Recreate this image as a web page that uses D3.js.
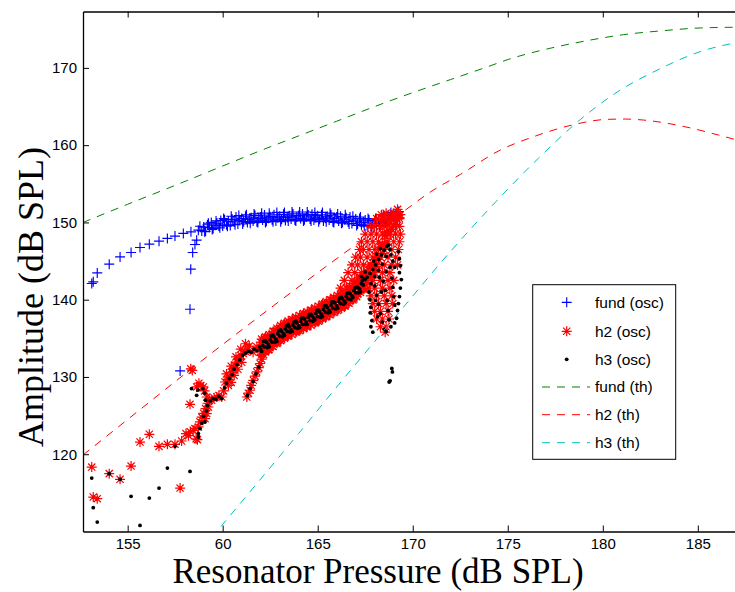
<!DOCTYPE html>
<html><head><meta charset="utf-8">
<script src="https://cdn.jsdelivr.net/npm/d3@7"></script>
<style>body{margin:0;background:#fff}</style>
</head><body><svg id="c" width="735" height="592"></svg>
<script>
// ---------- data ----------
const xTicks=[155,160,165,170,175,180,185];
const xTickLabels=["155","60","165","170","175","180","185"];
const yTicks=[120,130,140,150,160,170];
const xTitle="Resonator Pressure (dB SPL)";
const yTitle="Amplitude (dB SPL)";
const legendLabels=["fund (osc)","h2 (osc)","h3 (osc)","fund (th)","h2 (th)","h3 (th)"];

const fundTh=[[152.65,150.0],[155,152.35],[157.5,154.8],[160,157.3],[162.1,159.4],[164,161.2],[166,163.1],[168,165.0],[170,166.8],[172,168.5],[174,170.2],[175.03,171.1],[177.23,172.54],[179.16,173.52],[181.09,174.3],[183.19,174.82],[185.12,175.17],[187.3,175.27]];
const h2Th=[[152.65,119.9],[155,124.5],[157.5,129.4],[160,134.2],[163.04,139.9],[165,143.5],[167,147.1],[169,150.5],[171.08,154.18],[172.5,156.2],[174.6,159.36],[176.35,161.09],[178.37,162.6],[180.21,163.34],[181.18,163.38],[182.14,163.25],[184.16,162.47],[186.09,161.31],[187.3,160.5]];
const h3Th=[[159.4,109.15],[162,116.8],[164,122.7],[166,128.7],[168,134.6],[169.6,139.3],[171.97,146.2],[174,151.7],[176.61,158.3],[178.81,163.3],[180.65,166.7],[183.02,169.9],[185.12,172.1],[187.3,173.4]];

const fundOsc=[[153.11,142.10],[153.19,142.31],[153.40,143.47],[154.03,144.60],[154.60,145.54],[155.18,146.11],[155.65,146.76],[156.14,147.19],[156.65,147.58],[157.09,147.93],[157.49,148.23],[157.93,148.58],[158.33,148.78],[158.72,149.0],
[158.63,147.71],[158.54,147.15],[158.42,146.11],[158.32,143.95],[158.28,138.77],[157.76,130.78],
[158.8,149.5],[158.9,148.9],[159.0,149.4],[159.1,148.85],[159.2,149.7],[159.3,149.35],[159.4,150.0],[159.5,149.2],[159.6,149.65],[159.7,149.9],[159.8,149.55],[159.9,150.25],
[160.0,149.55],[160.1,150.35],[160.2,149.7],[160.3,150.15],[160.4,149.6],[160.5,150.4],[160.6,150.05],[160.7,150.7],[160.8,149.8],[160.9,150.25],
[161.0,150.5],[161.1,150.1],[161.2,150.8],[161.3,150.0],[161.4,150.4],[161.5,150.6],[161.6,150.2],[161.7,150.9],[161.8,150.1],[161.9,150.5],
[162.0,150.7],[162.1,150.3],[162.2,150.95],[162.3,150.15],[162.4,150.55],[162.5,150.75],[162.6,150.35],[162.7,151.0],[162.8,150.2],[162.9,150.6],
[163.0,150.8],[163.1,150.4],[163.2,151.05],[163.3,150.25],[163.4,150.65],[163.5,150.85],[163.6,150.45],[163.7,151.1],[163.8,150.3],[163.9,150.7],
[164.0,150.9],[164.1,150.5],[164.2,151.1],[164.3,150.35],[164.4,150.7],[164.5,150.95],[164.6,150.45],[164.7,151.05],[164.8,150.3],[164.9,150.6],
[165.0,150.85],[165.1,150.4],[165.2,151.0],[165.3,150.2],[165.4,150.55],[165.5,150.8],[165.6,150.3],[165.7,150.95],[165.8,150.1],[165.9,150.5],
[166.0,150.7],[166.1,150.2],[166.2,150.8],[166.3,150.0],[166.4,150.35],[166.5,150.6],[166.6,150.1],[166.7,150.7],[166.8,149.85],[166.9,150.2],
[167.0,150.45],[167.1,149.8],[167.2,150.5],[167.3,149.7],[167.4,150.0],[167.5,150.3],[167.6,149.6],[167.7,150.3],[167.8,149.5],[167.9,149.9],
[168.0,150.2],[168.1,149.6],[168.2,150.45],[168.3,149.8],[168.4,150.2],[168.5,150.7],[168.6,150.0],[168.7,150.9],[168.8,150.3],[168.9,150.7],
[169.0,151.1],[169.1,150.4],[169.2,151.2],[169.3,150.6],
[159.05,148.8],[159.25,149.9],[159.45,149.1],[159.65,150.2],[159.85,149.3],[160.05,150.5],[160.25,149.5],[160.45,150.8],[160.65,149.7],[160.85,150.9],
[161.05,149.8],[161.25,151.0],[161.45,149.9],[161.65,151.1],[161.85,150.0],[162.05,151.2],[162.25,150.0],[162.45,151.2],[162.65,150.1],[162.85,151.3],
[163.05,150.1],[163.25,151.3],[163.45,150.2],[163.65,151.35],[163.85,150.2],[164.05,151.35],[164.25,150.2],[164.45,151.35],[164.65,150.2],[164.85,151.3],
[165.05,150.1],[165.25,151.3],[165.45,150.1],[165.65,151.2],[165.85,150.0],[166.05,151.1],[166.25,149.9],[166.45,151.0],[166.65,149.8],[166.85,150.8],
[167.05,149.6],[167.25,150.7],[167.45,149.5],[167.65,150.5],[167.85,149.4],[168.05,150.5],[168.25,149.6],[168.45,150.9],[168.65,149.9],[168.85,151.3],[169.05,150.3],[169.25,151.4]];

const h2Osc=[[153.11,118.34],[153.19,114.46],[153.40,114.25],[154.03,117.49],[154.60,116.75],[155.18,118.47],[155.65,121.58],[156.14,122.58],[156.65,121.02],[157.09,121.28],[157.49,121.28],[157.76,115.62],[157.84,121.71],[158.28,126.46],[158.32,131.05],[158.40,130.85],
[158.07,122.67],[158.2,122.4],[158.3,122.9],[158.45,123.1],[158.54,123.32],[158.6,122.0],[158.72,123.53],[158.67,121.89],[158.8,124.2],[158.9,124.8],[159.0,125.3],[159.07,124.61],[159.1,125.9],[159.16,125.26],[159.2,126.6],[159.25,126.11],[159.16,127.41],[159.05,128.2],[158.98,128.71],[158.85,128.9],[158.63,128.71],[158.75,129.2],
[159.3,127.0],[159.42,126.98],[159.55,127.3],[159.69,127.41],[159.8,127.6],[159.95,127.41],[160.05,128.2],[160.12,129.35],[160.25,129.7],[160.39,130.0],[160.5,130.6],[160.56,131.09],[160.65,131.5],[160.74,131.94],[160.85,132.3],[160.95,132.8],[161.09,133.03],[161.2,133.3],[161.27,133.46],
[160.3,128.9],[160.45,129.3],[160.6,130.2],[160.8,131.0],[161.0,131.9],[161.4,134.0],[161.6,133.2],[161.8,133.9],[160.2,130.4],[160.45,131.4],[160.7,132.6],[160.95,133.6],[161.2,134.3],
[161.27,127.41],[161.35,127.9],[161.44,128.28],[161.5,128.9],[161.61,129.57],[161.7,130.1],[161.79,130.65],[161.9,131.2],[161.97,131.74],[162.05,132.3],[162.15,132.9],
[162.0,134.5],[162.0,133.2],[162.1,134.5],[162.1,133.2],[162.2,135.0],[162.2,133.7],[162.3,134.9],[162.3,133.6],[162.4,134.7],[162.4,133.5],[162.5,135.3],[162.5,134.0],[162.6,135.3],[162.6,134.0],[162.7,135.9],[162.7,134.6],[162.8,135.8],[162.8,134.5],[162.9,135.7],[162.9,134.5],
[163.0,136.3],[163.0,135.0],[163.1,136.2],[163.1,134.9],[163.2,136.8],[163.2,135.5],[163.3,136.6],[163.3,135.3],[163.4,136.5],[163.4,135.3],[163.5,137.0],[163.5,135.7],[163.6,136.9],[163.6,135.6],[163.7,137.4],[163.7,136.1],[163.8,137.3],[163.8,136.0],[163.9,137.1],[163.9,135.9],
[164.0,137.6],[164.0,136.3],[164.1,137.5],[164.1,136.2],[164.2,138.0],[164.2,136.7],[164.3,137.9],[164.3,136.6],[164.4,137.7],[164.4,136.5],[164.5,138.2],[164.5,136.9],[164.6,138.1],[164.6,136.8],[164.7,138.6],[164.7,137.3],[164.8,138.5],[164.8,137.2],[164.9,138.3],[164.9,137.1],
[165.0,138.8],[165.0,137.5],[165.1,138.7],[165.1,137.4],[165.2,139.3],[165.2,138.0],[165.3,139.1],[165.3,137.8],[165.4,139.0],[165.4,137.8],[165.5,139.5],[165.5,138.2],[165.6,139.4],[165.6,138.1],[165.7,140.0],[165.7,138.7],[165.8,139.8],[165.8,138.5],[165.9,139.7],[165.9,138.5],
[166.0,140.2],[166.0,138.9],[166.1,140.1],[166.1,138.8],[166.2,140.7],[166.2,139.4],[166.3,140.5],[166.3,139.2],[166.4,140.4],[166.4,139.2],[166.5,140.9],[166.5,139.6],[166.6,140.9],[166.6,139.6],[166.7,141.5],[166.7,140.2],[166.8,141.4],[166.8,140.1],[166.9,141.3],[166.9,140.1],
[167.0,141.9],[167.0,140.6],[167.1,142.0],[167.1,140.7],[167.2,142.7],[167.2,141.4],[167.3,142.6],[167.3,141.3],[167.4,142.6],[167.4,141.4],[167.5,143.3],[167.5,142.0],[167.6,143.5],[167.6,142.2],[167.7,144.2],[167.7,142.9],[167.8,144.3],[167.8,143.0],[167.9,144.4],[167.9,143.2],
[168.0,145.2],[168.0,143.9],[168.1,145.6],[168.1,144.3],[168.2,146.5],[168.2,145.2],[168.3,146.8],[168.3,145.5],[168.4,147.2],[168.4,146.0],[168.5,148.3],[168.5,147.0],[168.6,148.8],[168.6,147.5],[168.7,149.8],[168.7,148.5],[168.8,150.1],[168.8,148.8],[168.9,150.3],[168.9,149.1],
[169.0,151.0],[169.0,149.7],[169.1,151.1],[169.1,149.8],[169.2,151.7],[169.2,150.4],
[162.05,134.9],[162.05,132.95],[162.25,135.2],[162.25,133.25],[162.45,135.5],[162.45,133.55],[162.65,135.9],[162.65,133.95],[162.85,136.3],[162.85,134.35],
[163.05,136.65],[163.05,134.7],[163.25,136.95],[163.25,135.0],[163.45,137.25],[163.45,135.3],[163.65,137.45],[163.65,135.5],[163.85,137.75],[163.85,135.8],
[164.05,137.95],[164.05,136.0],[164.25,138.2],[164.25,136.25],[164.45,138.45],[164.45,136.5],[164.65,138.65],[164.65,136.7],[164.85,138.95],[164.85,137.0],
[165.05,139.15],[165.05,137.2],[165.25,139.45],[165.25,137.5],[165.45,139.75],[165.45,137.8],[165.65,140.0],[165.65,138.05],[165.85,140.3],[165.85,138.35],
[166.05,140.55],[166.05,138.6],[166.25,140.85],[166.25,138.9],[166.45,141.15],[166.45,139.2],[166.65,141.5],[166.65,139.55],[166.85,141.9],[166.85,139.95],
[167.05,142.35],[167.05,140.4],[167.25,142.9],[167.25,140.95],[167.45,143.45],[167.45,141.5],
[168.4,150.5],[168.7,150.5],[169.3,150.5],[168.3,149.5],[168.5,149.5],[169.0,149.5],[169.3,149.5],[168.1,148.5],[168.4,148.5],[168.8,148.5],[169.1,148.5],[169.35,148.5],
[167.9,147.5],[168.2,147.5],[168.7,147.5],[169.0,147.5],[169.3,147.5],[167.7,146.5],[168.0,146.5],[168.5,146.5],[168.9,146.5],[169.25,146.5],
[167.6,145.5],[167.9,145.5],[168.3,145.5],[168.7,145.5],[169.1,145.5],[167.4,144.5],[167.8,144.5],[168.1,144.5],[168.5,144.5],[168.9,144.5],[169.2,144.5],
[167.3,143.5],[167.7,143.5],[168.0,143.5],[168.4,143.5],[168.8,143.5],[167.6,142.5],[167.9,142.5],[168.3,142.5],[168.7,142.5],[169.0,142.5],
[167.7,141.5],[168.0,141.5],[168.4,141.5],[168.8,141.5],[167.8,140.5],[168.1,140.5],[168.5,140.5],[168.9,140.5],
[167.9,139.5],[168.2,139.5],[168.6,139.5],[168.95,139.5],[168.0,138.5],[168.3,138.5],[168.7,138.5],[168.1,137.5],[168.4,137.5],[168.75,137.5],[168.3,136.5],[168.6,136.5],[168.55,135.8],
[167.3,147.5],[167.6,147.5],[167.2,146.5],[167.4,146.5],[167.0,145.5],[167.25,145.5],[166.8,144.5],[167.1,144.5],[166.6,143.5],[166.95,143.5],[166.4,142.5],[166.8,142.5],[167.2,142.5],
[166.2,141.5],[166.5,141.5],[167.3,141.5],[167.5,148.5],[167.8,148.5],[167.8,149.5],[168.0,149.5],[168.1,150.5],[168.6,151.2],[169.0,151.2],[168.35,151.0],[169.35,151.0]];

const h3Osc=[[153.11,116.92],[153.19,113.08],[153.40,111.22],[154.03,117.49],[154.60,116.75],[155.18,114.55],[155.65,110.79],[156.14,114.33],[156.65,115.62],[157.09,118.21],[157.49,121.02],[158.28,117.78],
[158.36,128.5],[158.63,127.63],[158.7,128.3],[158.81,123.32],[158.72,122.67],[158.72,122.23],[158.9,124.0],[159.07,124.17],[159.0,124.9],[159.15,125.6],[159.2,126.3],[159.1,127.0],[159.05,127.9],[158.95,128.5],
[159.35,126.9],[159.5,127.2],[159.65,127.1],[159.8,127.5],[159.95,127.2],[160.1,128.6],[160.2,129.2],[160.35,129.8],[160.5,130.3],[160.6,131.0],[160.75,131.6],[160.9,132.2],[161.05,132.8],[161.2,133.1],
[161.3,127.6],[161.45,128.5],[161.6,129.4],[161.75,130.4],[161.9,131.3],[161.35,133.3],[161.5,133.2],[161.65,133.6],[161.8,133.4],[161.95,133.9],
[162.0,133.6],[162.1,134.1],[162.2,133.9],[162.3,134.5],[162.4,134.2],[162.5,134.8],[162.6,134.5],[162.7,135.2],[162.8,134.9],[162.9,135.6],
[163.0,135.3],[163.1,135.9],[163.2,135.6],[163.3,136.2],[163.4,135.9],[163.5,136.5],[163.6,136.1],[163.7,136.7],[163.8,136.4],[163.9,137.0],
[164.0,136.6],[164.1,137.2],[164.2,136.8],[164.3,137.5],[164.4,137.1],[164.5,137.7],[164.6,137.3],[164.7,137.9],[164.8,137.6],[164.9,138.2],
[165.0,137.8],[165.1,138.4],[165.2,138.1],[165.3,138.7],[165.4,138.4],[165.5,139.0],[165.6,138.6],[165.7,139.3],[165.8,138.9],[165.9,139.6],
[166.0,139.2],[166.1,139.8],[166.2,139.5],[166.3,140.1],[166.4,139.8],[166.5,140.4],[166.6,140.1],[166.7,140.8],[166.8,140.5],[166.9,141.2],
[167.0,140.9],[167.1,141.6],[167.2,141.4],[167.3,142.1],[167.4,141.9],[167.5,142.6],
[162.05,133.3],[162.25,134.7],[162.45,133.9],[162.65,135.4],[162.85,134.6],[163.05,136.1],[163.25,135.4],[163.45,136.8],[163.65,135.9],[163.85,137.2],
[164.05,136.4],[164.25,137.6],[164.45,136.8],[164.65,138.1],[164.85,137.4],[165.05,138.6],[165.25,137.8],[165.45,139.2],[165.65,138.4],[165.85,139.7],
[166.05,138.9],[166.25,140.3],[166.45,139.6],[166.65,140.9],[166.85,140.3],[167.05,141.6],[167.25,141.0],[167.45,142.7],
[162.15,134.6],[162.35,133.8],[162.55,135.3],[162.75,134.5],[162.95,136.0],[163.15,135.2],[163.35,136.6],[163.55,135.8],[163.75,137.1],[163.95,136.3],
[164.15,137.6],[164.35,136.8],[164.55,138.1],[164.75,137.2],[164.95,138.6],[165.15,137.7],[165.35,139.2],[165.55,138.3],[165.75,139.7],[165.95,138.8],
[166.15,140.2],[166.35,139.4],[166.55,140.8],[166.75,140.0],[166.95,141.5],[167.15,140.9],[167.35,142.5],
[167.6,142.9],[167.75,143.4],[167.9,143.9],[168.05,144.5],[168.2,145.2],[168.35,145.8],[168.5,146.4],[168.65,146.9],[168.72,147.06],[168.8,146.5],[168.85,145.8],[168.95,145.0],[169.05,144.2],[168.6,145.6],[168.4,144.6],[168.2,143.8],[168.0,143.0],[167.8,142.1],[167.7,141.0],[167.75,140.0],[167.8,139.0],[167.76,138.3],[167.85,137.3],[167.9,135.8],[167.8,136.5],
[168.0,141.8],[168.1,140.6],[168.2,139.4],[168.3,138.2],[168.4,137.1],[168.5,136.2],[168.6,135.9],[168.45,142.4],[168.55,141.2],[168.65,139.9],[168.7,138.6],[168.75,137.4],[168.85,136.5],[168.9,142.8],[168.95,141.6],[169.0,140.4],[169.05,139.3],[168.3,146.6],[168.1,145.9],[167.95,145.0],
[167.5,143.6],[167.3,143.0],[168.25,142.9],[168.35,141.0],[168.6,143.6],[168.8,144.2],[168.15,137.8],[168.05,139.9],
[169.25,146.2],[169.3,145.3],[169.35,144.4],[169.3,143.5],[169.4,142.6],[169.35,141.5],[169.3,140.4],[169.25,139.5],[169.2,138.6],[169.15,137.6],[169.05,137.0],
[168.90,131.1],[168.93,130.65],[168.81,129.5],[168.76,129.35]];

// ---------- drawing ----------
const svg=d3.select("#c");
const L=83,T=11.5,R=740,B=531.5;
const x=d3.scaleLinear().domain([152.65,187.22]).range([L,R]);
const y=d3.scaleLinear().domain([110,177.3]).range([B,T]);
const colors={fund:"#0000ff",h2:"#ff0000",h3:"#000000",fundTh:"#008000",h2Th:"#ff0000",h3Th:"#00bfbf"};
const tickFont="'Liberation Sans', Arial, Helvetica, sans-serif";
const serif="'Liberation Serif', 'Times New Roman', serif";

svg.append("rect").attr("width",735).attr("height",592).attr("fill","#fff");
svg.append("defs").append("clipPath").attr("id","clip").append("rect")
  .attr("x",L).attr("y",T).attr("width",R-L).attr("height",B-T);

function plusPath(px,py,s){return `M${px-s},${py}h${2*s}M${px},${py-s}v${2*s}`;}
function starPath(px,py,s){const d=s*0.72;return `M${px-s},${py}h${2*s}M${px},${py-s}v${2*s}M${px-d},${py-d}l${2*d},${2*d}M${px-d},${py+d}l${2*d},${-2*d}`;}

const gData=svg.append("g");
gData.append("path").attr("fill","none").attr("stroke",colors.fund).attr("stroke-width",1.15)
  .attr("d",fundOsc.map(d=>plusPath(x(d[0]),y(d[1]),5)).join(""));
gData.append("path").attr("fill","none").attr("stroke",colors.h2).attr("stroke-width",1.2)
  .attr("d",h2Osc.map(d=>starPath(x(d[0]),y(d[1]),5)).join(""));
gData.selectAll("circle.h3").data(h3Osc).join("circle").attr("class","h3")
  .attr("cx",d=>x(d[0])).attr("cy",d=>y(d[1])).attr("r",1.9).attr("fill",colors.h3);

const line=d3.line().x(d=>x(d[0])).y(d=>y(d[1])).curve(d3.curveMonotoneX);
const gLines=svg.append("g").attr("clip-path","url(#clip)");
[[fundTh,colors.fundTh],[h2Th,colors.h2Th],[h3Th,colors.h3Th]].forEach(([d,c])=>{
  gLines.append("path").datum(d).attr("d",line).attr("fill","none").attr("stroke",c)
    .attr("stroke-width",1).attr("stroke-dasharray","8,7");
});

// axes
const xb=svg.append("g").attr("transform",`translate(0,${B})`)
  .call(d3.axisBottom(x).tickValues(xTicks).tickSize(-6).tickSizeOuter(0).tickPadding(7)
    .tickFormat((d,i)=>xTickLabels[i]));
const xt=svg.append("g").attr("transform",`translate(0,${T})`)
  .call(d3.axisTop(x).tickValues(xTicks).tickSize(-6).tickSizeOuter(0).tickFormat(""));
const yl=svg.append("g").attr("transform",`translate(${L},0)`)
  .call(d3.axisLeft(y).tickValues(yTicks).tickSize(-6).tickSizeOuter(0).tickPadding(6));
[xb,xt,yl].forEach(g=>{
  g.selectAll("path.domain").attr("stroke","#000").attr("stroke-width",1.3);
  g.selectAll(".tick line").attr("stroke","#000").attr("stroke-width",1);
  g.selectAll(".tick text").attr("font-family",tickFont).attr("font-size",15).attr("fill","#000");
});

// titles
svg.append("text").attr("x",378).attr("y",582.5).attr("text-anchor","middle")
  .attr("font-family",serif).attr("font-size",35).attr("fill","#000").text(xTitle);
svg.append("text").attr("transform","translate(43,297) rotate(-90)").attr("text-anchor","middle")
  .attr("font-family",serif).attr("font-size",36).attr("fill","#000").text(yTitle);

// legend
const lg=svg.append("g");
lg.append("rect").attr("x",532.7).attr("y",284.7).attr("width",143).attr("height",174.6)
  .attr("fill","#fff").attr("stroke","#000").attr("stroke-width",1);
const rowY=[302.3,331.3,359.3,387,414.7,442.7];
const mx=566.7;
lg.append("path").attr("d",plusPath(mx,rowY[0],5)).attr("stroke",colors.fund).attr("stroke-width",1.15).attr("fill","none");
lg.append("path").attr("d",starPath(mx,rowY[1],5)).attr("stroke",colors.h2).attr("stroke-width",1.2).attr("fill","none");
lg.append("circle").attr("cx",mx).attr("cy",rowY[2]).attr("r",1.9).attr("fill",colors.h3);
[colors.fundTh,colors.h2Th,colors.h3Th].forEach((c,i)=>{
  lg.append("line").attr("x1",542).attr("x2",590).attr("y1",rowY[3+i]).attr("y2",rowY[3+i])
    .attr("stroke",c).attr("stroke-width",1).attr("stroke-dasharray","8,7");
});
legendLabels.forEach((t,i)=>{
  lg.append("text").attr("x",595).attr("y",rowY[i]).attr("dy","0.35em")
    .attr("font-family",tickFont).attr("font-size",15.5).attr("fill","#000").text(t);
});
</script></body></html>
